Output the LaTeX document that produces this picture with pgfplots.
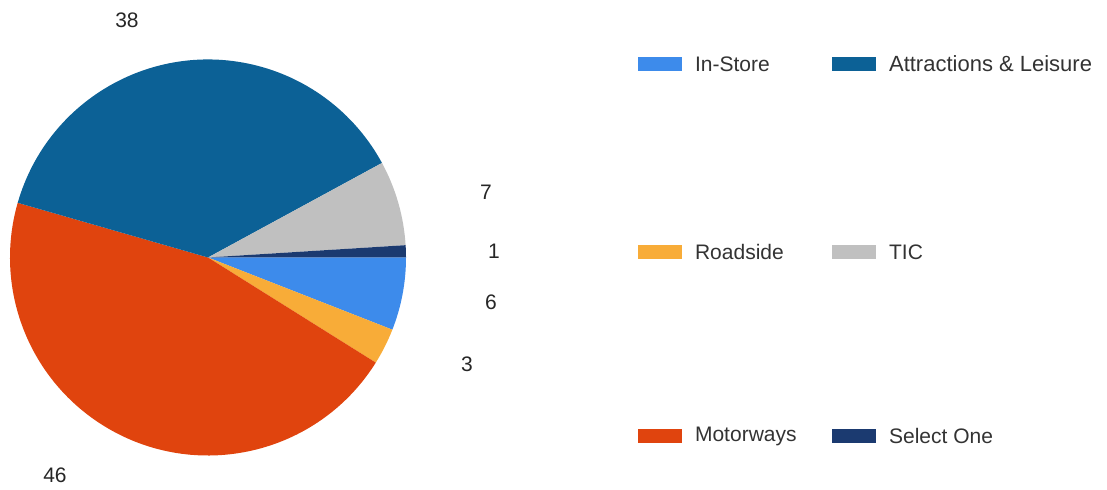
\documentclass[border=0pt]{standalone}
\usepackage{pgfplots}
\usepackage{pgfplotstable}
\usepackage{fontspec}
\setmainfont{Liberation Sans}
\pgfplotsset{compat=1.18}
\definecolor{c0}{HTML}{3D8BEB}
\definecolor{c1}{HTML}{F8AC38}
\definecolor{c2}{HTML}{E0440E}
\definecolor{c3}{HTML}{0C6196}
\definecolor{c4}{HTML}{C0C0C0}
\definecolor{c5}{HTML}{1B3A70}
\definecolor{txt}{HTML}{333333}

% slices, clockwise from 3 o'clock
\pgfplotstableread{
name value
In-Store 6
Roadside 3
Motorways 46
Attractions 38
TIC 7
SelectOne 1
}\piedata

% value labels (pixel positions, y up)
\pgfplotstableread{
x y lab
127 470 38
486 298 7
494 239 1
491 188 6
467 126 3
55 15 46
}\labdata

\begin{document}
\begin{tikzpicture}
\pgfplotstablegetrowsof{\piedata}
\pgfmathtruncatemacro\nrows{\pgfplotsretval-1}
\gdef\total{0}
\foreach \i in {0,...,\nrows}{%
  \pgfplotstablegetelem{\i}{value}\of\piedata
  \pgfmathsetmacro\t{\total+\pgfplotsretval}\xdef\total{\t}}
\gdef\cum{0}
\foreach \i in {0,...,\nrows}{%
  \pgfplotstablegetelem{\i}{value}\of\piedata
  \pgfmathsetmacro\a{-\cum/\total*360}
  \pgfmathsetmacro\c{\cum+\pgfplotsretval}
  \pgfmathsetmacro\b{-\c/\total*360}
  \expandafter\xdef\csname sa\i\endcsname{\a}
  \expandafter\xdef\csname sb\i\endcsname{\b}
  \xdef\cum{\c}}
\begin{axis}[
  at={(0,0)}, anchor=south west,
  x=0.5pt, y=0.5pt,
  xmin=0, xmax=1107, ymin=0, ymax=490,
  hide axis, clip=false,
  font=\fontsize{10.5}{12}\selectfont,
]
\pgfplotsinvokeforeach{0,...,5}{%
  \fill[c#1] (axis cs:208,232.5) -- ++(\csname sa#1\endcsname:99pt)
     arc[start angle=\csname sa#1\endcsname, end angle=\csname sb#1\endcsname, radius=99pt] -- cycle;
}
\addplot[draw=none, mark=none, nodes near coords, point meta=explicit symbolic,
  every node near coord/.append style={anchor=center, text=black!85, font=\fontsize{10.5}{12}\selectfont}]
  table[x=x, y=y, meta=lab] {\labdata};

% legend
\fill[c0] (axis cs:638,419) rectangle (axis cs:682,433);
\node[anchor=west, text=txt] at (axis cs:688,426) {In-Store};
\fill[c3] (axis cs:832,419) rectangle (axis cs:876,433);
\node[anchor=west, text=txt, font=\fontsize{11}{12}\selectfont] at (axis cs:882,426) {Attractions \& Leisure};
\fill[c1] (axis cs:638,231) rectangle (axis cs:682,245);
\node[anchor=west, text=txt] at (axis cs:688,238) {Roadside};
\fill[c4] (axis cs:832,231) rectangle (axis cs:876,245);
\node[anchor=west, text=txt] at (axis cs:882,238) {TIC};
\fill[c2] (axis cs:638,47) rectangle (axis cs:682,61);
\node[anchor=west, text=txt] at (axis cs:688,54) {Motorways};
\fill[c5] (axis cs:832,47) rectangle (axis cs:876,61);
\node[anchor=west, text=txt] at (axis cs:882,54) {Select One};
\end{axis}
\pgfresetboundingbox
\path[use as bounding box] (0,0) rectangle (553.5pt,245pt);
\end{tikzpicture}
\end{document}
